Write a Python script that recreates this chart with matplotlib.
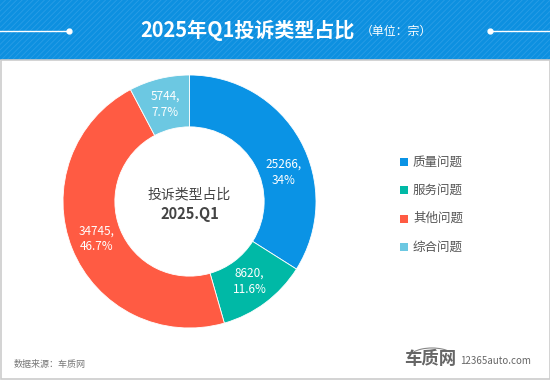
import matplotlib
matplotlib.use('Agg')
import matplotlib.pyplot as plt
from matplotlib.patches import Rectangle, Arc
from matplotlib.lines import Line2D

plt.rcParams['font.family'] = ['Noto Sans CJK SC', 'DejaVu Sans']
plt.rcParams['hatch.linewidth'] = 0.6

categories = ['质量问题', '服务问题', '其他问题', '综合问题']
counts = [25266, 8620, 34745, 5744]
colors = ['#0A93E5', '#00B9A6', '#FF5B43', '#6CC8E2']

title = '2025年Q1投诉类型占比'
unit = '（单位：宗）'
center_text = ['投诉类型占比', '2025.Q1']
source = '数据来源：车质网'

W, H = 550, 380
fig = plt.figure(figsize=(W / 100, H / 100), dpi=100)


def fx(px):
    return px / W


def fy(py):
    return 1 - py / H


# header band
fig.patches.append(Rectangle((0, fy(60)), 1, 60 / H, transform=fig.transFigure,
                             facecolor='#0D90E0', edgecolor='#2A9DE6', hatch='//////',
                             linewidth=0, zorder=-2))
# white panel with border
fig.patches.append(Rectangle((fx(0.5), fy(379)), fx(549), 319 / H, transform=fig.transFigure,
                             facecolor='white', edgecolor='#CCCCCC', linewidth=1.2, zorder=-2))

# header decorations
fig.lines.append(Line2D([0, fx(69)], [fy(30.7), fy(30.7)], transform=fig.transFigure,
                        color='white', lw=1))
fig.lines.append(Line2D([fx(490), 1], [fy(30.7), fy(30.7)], transform=fig.transFigure,
                        color='white', lw=1))
fig.lines.append(Line2D([fx(69), fx(490)], [fy(30.7), fy(30.7)], transform=fig.transFigure,
                        color='white', lw=0, marker='o', markersize=3.5))
fig.text(fx(247), fy(30), title, color='white', fontsize=14.4, fontweight='bold',
         ha='center', va='center')
fig.text(fx(361), fy(31), unit, color='white', fontsize=8.6, ha='left', va='center')

# donut
cx, cy, r = 189.5, 201.5, 126.5
ax = fig.add_axes([fx(cx - r), fy(cy + r), 2 * r / W, 2 * r / H])
total = sum(counts)


def label(pct):
    v = round(pct * total / 100)
    return '%d,\n%g%%' % (v, round(pct, 1))


wedges, texts, autotexts = ax.pie(counts, colors=colors, startangle=90, counterclock=False,
                                  radius=1, autopct=label, pctdistance=0.79,
                                  wedgeprops=dict(width=0.41, edgecolor='white', linewidth=0.6),
                                  textprops=dict(color='white', fontsize=8.5, linespacing=1.3))
# the first label sits lower in the original
autotexts[0].set_position((0.74, 0.23))
ax.set_xlim(-1, 1)
ax.set_ylim(-1, 1)
ax.axis('off')

fig.text(fx(cx), fy(194), center_text[0], color='#444444', fontsize=10, ha='center', va='center')
fig.text(fx(cx), fy(214), center_text[1], color='#444444', fontsize=10.5, fontweight='bold',
         ha='center', va='center')

# legend
for i, (name, c) in enumerate(zip(categories, colors)):
    y = 162 + i * 28.3
    fig.patches.append(Rectangle((fx(400), fy(y + 4)), fx(8), 8 / H, transform=fig.transFigure,
                                 facecolor=c, edgecolor='none'))
    fig.text(fx(413), fy(y), name, color='#555555', fontsize=9, ha='left', va='center')

# footer
fig.text(fx(14), fy(364), source, color='#777777', fontsize=6.5, ha='left', va='center')
fig.text(fx(404), fy(359), '车质网', color='#666666', fontsize=12.5, fontweight='bold',
         ha='left', va='center')
fig.patches.append(Arc((432, H - 357), 44, 18, theta1=15, theta2=165, color='#888888', lw=0.8,
                       transform=matplotlib.transforms.IdentityTransform()))
fig.text(fx(460), fy(361), '12365auto.com', color='#666666', fontsize=7,
         ha='left', va='center')

fig.savefig('out.png', dpi=100)
